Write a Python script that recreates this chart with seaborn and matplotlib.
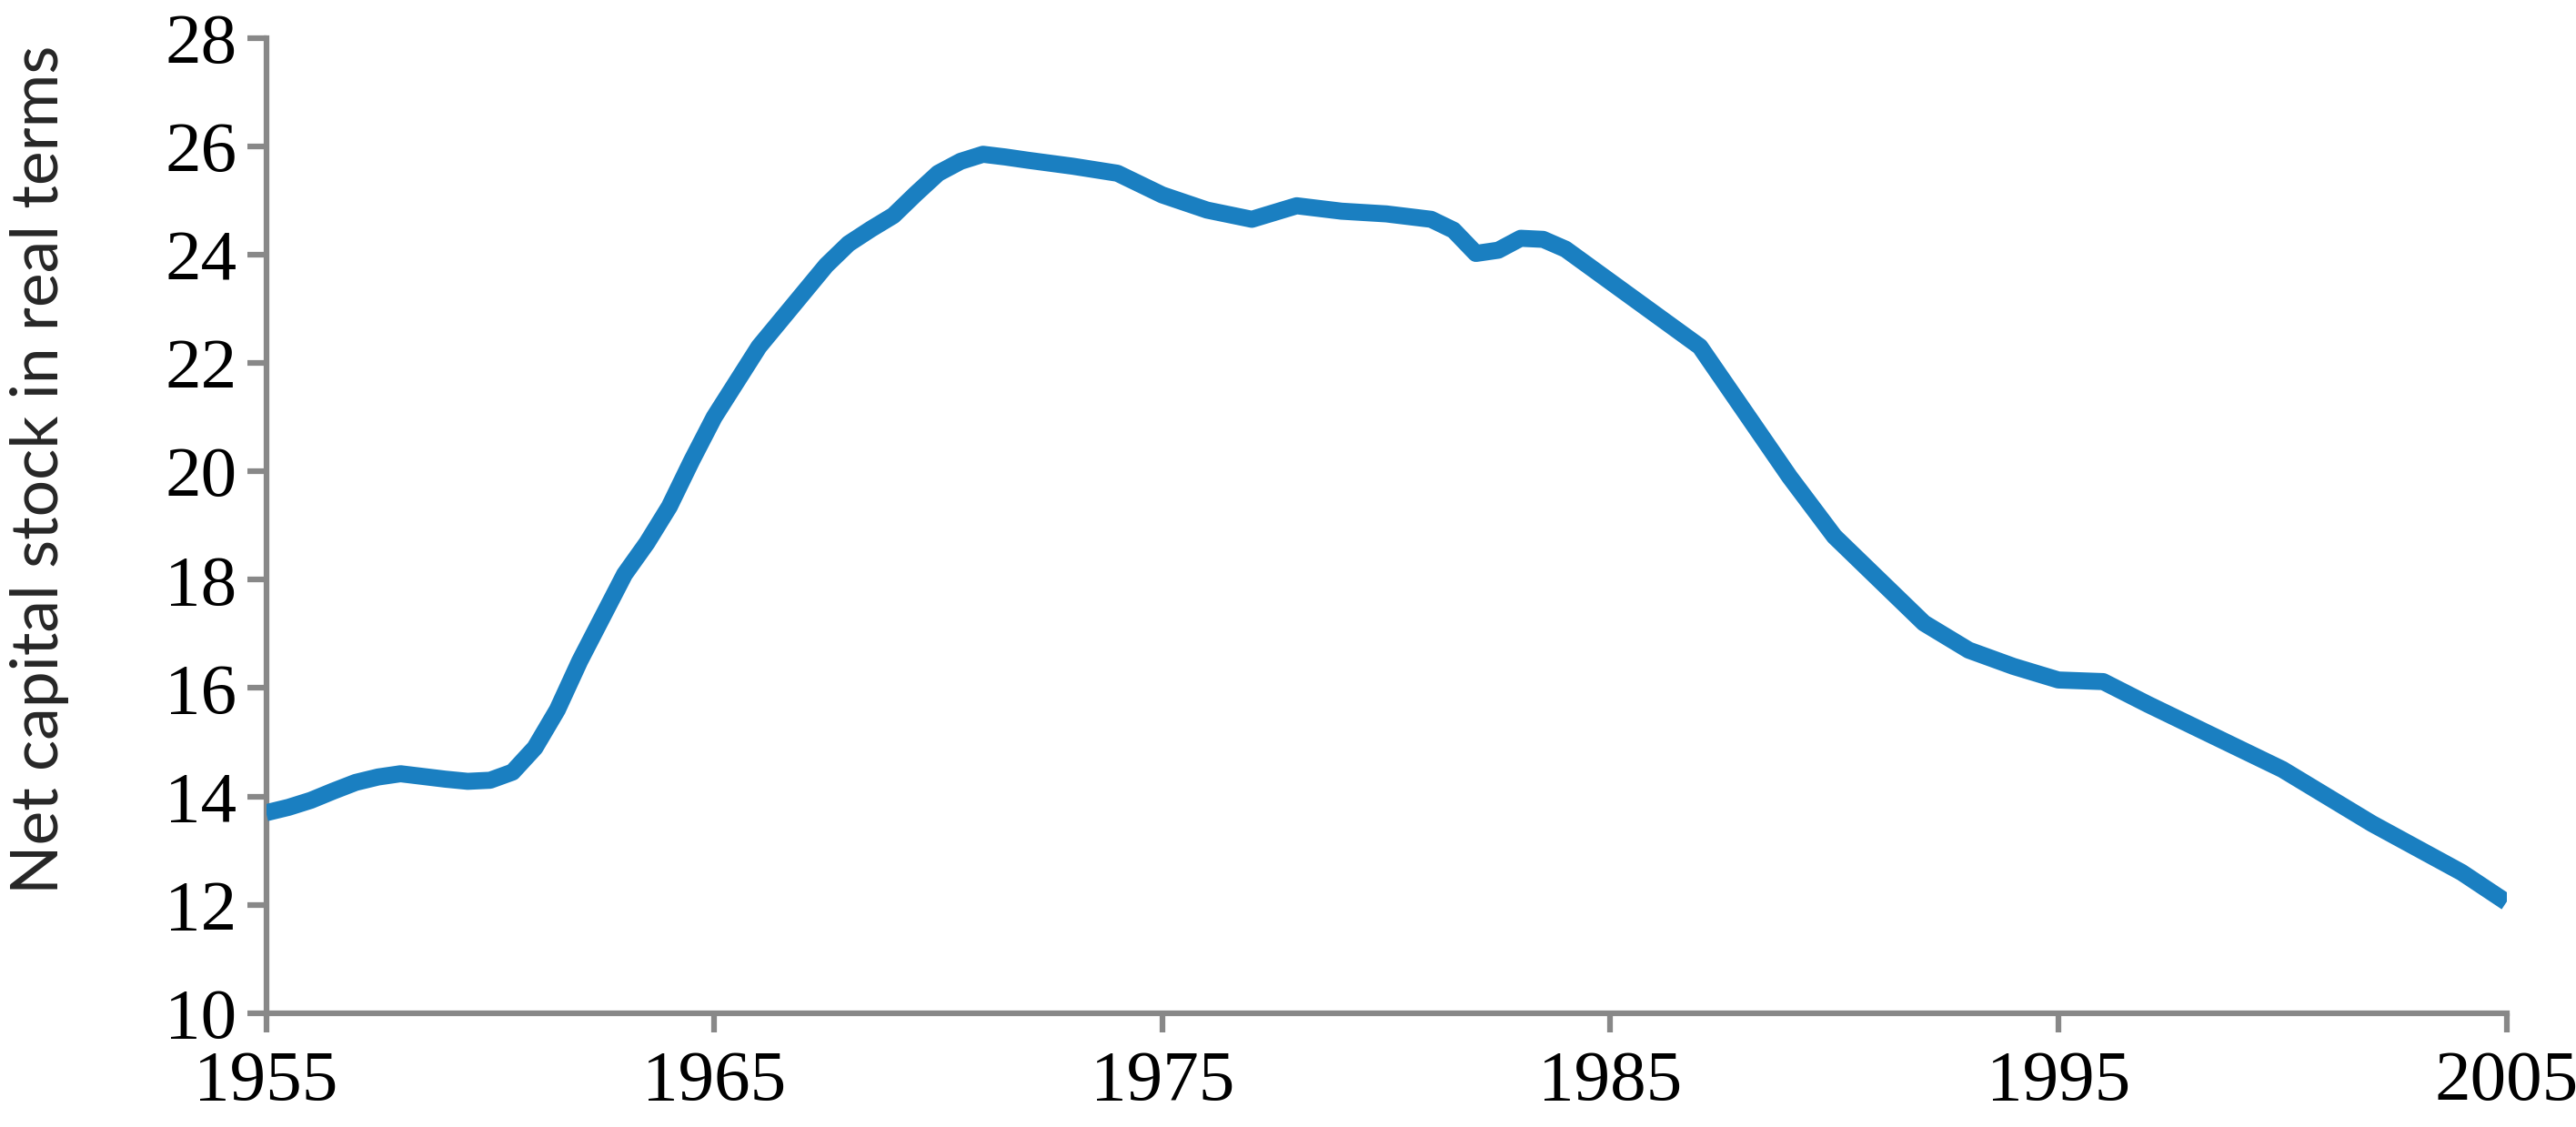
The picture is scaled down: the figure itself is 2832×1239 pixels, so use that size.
import matplotlib
matplotlib.use("Agg")
import matplotlib.pyplot as plt
import seaborn as sns
import pandas as pd

years = [1955, 1955.5, 1956, 1956.5, 1957, 1957.5, 1958, 1958.5, 1959, 1959.5,
         1960, 1960.5, 1961, 1961.5, 1962, 1962.5, 1963, 1963.5, 1964, 1964.5,
         1965, 1965.5, 1966, 1966.5, 1967, 1967.5, 1968, 1968.5, 1969, 1969.5,
         1970, 1970.5, 1971, 1971.5, 1972, 1973, 1974,
         1975, 1976, 1977, 1978, 1979, 1980, 1981, 1981.5, 1982, 1982.5, 1983, 1983.5, 1984,
         1985, 1986, 1987, 1988, 1989, 1990, 1991, 1992, 1993, 1994,
         1995, 1996, 1997, 1998, 1999, 2000, 2001, 2002, 2003, 2004, 2005]
capital_stock = [13.70, 13.80, 13.93, 14.10, 14.26, 14.36, 14.42, 14.37, 14.32, 14.28,
                 14.30, 14.45, 14.90, 15.60, 16.50, 17.30, 18.10, 18.68, 19.35, 20.20,
                 21.00, 21.65, 22.30, 22.80, 23.30, 23.80, 24.20, 24.47, 24.72, 25.12,
                 25.50, 25.72, 25.85, 25.80, 25.74, 25.63, 25.50,
                 25.10, 24.82, 24.65, 24.90, 24.80, 24.75, 24.65, 24.45, 24.02, 24.08, 24.30, 24.28, 24.10,
                 23.50, 22.90, 22.30, 21.10, 19.90, 18.80, 18.00, 17.20, 16.70, 16.40,
                 16.15, 16.12, 15.70, 15.30, 14.90, 14.50, 14.00, 13.50, 13.05, 12.60, 12.05]
y_ticks = [10, 12, 14, 16, 18, 20, 22, 24, 26, 28]
x_ticks = [1955, 1965, 1975, 1985, 1995, 2005]
y_label = "Net capital stock in real terms"

df = pd.DataFrame({"year": years, "value": capital_stock})

sns.set_style("white")
fig = plt.figure(figsize=(28.32, 12.39), dpi=100)
ax = fig.add_axes([0.1033, 0.1009, 0.8697, 0.8656])

sns.lineplot(data=df, x="year", y="value", ax=ax, color="#1a7fc1",
             linewidth=13.5, solid_capstyle="butt", solid_joinstyle="round")

ax.set_xlim(1955, 2005)
ax.set_ylim(10, 28)
ax.set_xticks(x_ticks)
ax.set_yticks(y_ticks)
ax.set_xticklabels([str(v) for v in x_ticks], fontfamily="Liberation Serif", fontsize=57)
ax.set_yticklabels([str(v) for v in y_ticks], fontfamily="Liberation Serif", fontsize=57)
ax.set_xlabel("")
ax.set_ylabel(y_label, fontfamily="Lato", fontsize=51.5)
ax.yaxis.set_label_coords(-0.088, 0.557)

for side in ["top", "right"]:
    ax.spines[side].set_visible(False)
for side in ["left", "bottom"]:
    ax.spines[side].set_color("#888888")
    ax.spines[side].set_linewidth(4.5)
    ax.spines[side].set_zorder(1)
ax.tick_params(axis="both", which="major", bottom=True, left=True,
               direction="out", length=15, width=4.5, color="#888888",
               labelcolor="black")
ax.tick_params(axis="y", pad=8)
ax.tick_params(axis="x", pad=14)

fig.savefig("out.png", dpi=100)
